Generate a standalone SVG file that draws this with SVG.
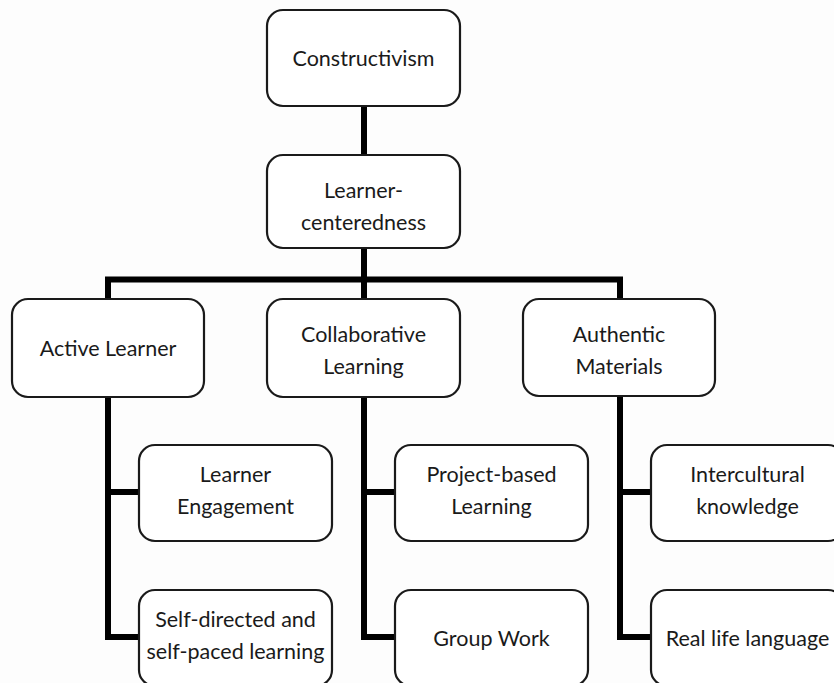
<svg xmlns="http://www.w3.org/2000/svg" width="834" height="683" viewBox="0 0 834 683">
  <style>
    .box { fill: #ffffff; stroke: #1a1a1a; stroke-width: 2.2; }
    .lbl { font-family: Lato, "Open Sans", sans-serif; font-size: 21.5px; fill: #1a1a1a; text-anchor: middle; }
    .link { fill: none; stroke: #000000; stroke-width: 6; stroke-linecap: butt; stroke-linejoin: miter; }
  </style>
  <rect width="834" height="683" fill="#fdfdfd"/>

  <!-- tree connectors -->
  <g id="connectors">
    <path class="link" d="M364 106 V155"/>
    <path class="link" d="M364 248 V279.5"/>
    <path class="link" d="M108 299 V279.5 H620 V299"/>
    <path class="link" d="M364 279.5 V299"/>
    <path class="link" d="M108 397 V637 H139 M108 492 H139"/>
    <path class="link" d="M364 397 V637 H395 M364 492 H395"/>
    <path class="link" d="M620 397 V637 H651 M620 492 H651"/>
  </g>

  <g id="constructivism">
    <rect class="box" x="267" y="10" width="193" height="96" rx="16"/>
    <text class="lbl" x="363.5" y="66">Constructivism</text>
  </g>
  <g id="learner-centeredness">
    <rect class="box" x="267" y="155" width="193" height="93" rx="16"/>
    <text class="lbl" x="363.5" y="198">Learner-</text>
    <text class="lbl" x="363.5" y="230">centeredness</text>
  </g>

  <g id="active-learner">
    <rect class="box" x="12" y="299" width="192" height="98" rx="16"/>
    <text class="lbl" x="108" y="356">Active Learner</text>
  </g>
  <g id="collaborative-learning">
    <rect class="box" x="267" y="299" width="193" height="98" rx="16"/>
    <text class="lbl" x="363.5" y="342">Collaborative</text>
    <text class="lbl" x="363.5" y="374">Learning</text>
  </g>
  <g id="authentic-materials">
    <rect class="box" x="523" y="299" width="192" height="97" rx="16"/>
    <text class="lbl" x="619" y="342">Authentic</text>
    <text class="lbl" x="619" y="374">Materials</text>
  </g>

  <g id="learner-engagement">
    <rect class="box" x="139" y="445" width="193" height="96" rx="16"/>
    <text class="lbl" x="235.5" y="482">Learner</text>
    <text class="lbl" x="235.5" y="514">Engagement</text>
  </g>
  <g id="self-directed">
    <rect class="box" x="139" y="590" width="193" height="96" rx="16"/>
    <text class="lbl" x="235.5" y="627">Self-directed and</text>
    <text class="lbl" x="235.5" y="659">self-paced learning</text>
  </g>

  <g id="project-based">
    <rect class="box" x="395" y="445" width="193" height="96" rx="16"/>
    <text class="lbl" x="491.5" y="482">Project-based</text>
    <text class="lbl" x="491.5" y="514">Learning</text>
  </g>
  <g id="group-work">
    <rect class="box" x="395" y="590" width="193" height="96" rx="16"/>
    <text class="lbl" x="491.5" y="646">Group Work</text>
  </g>

  <g id="intercultural">
    <rect class="box" x="651" y="445" width="193" height="96" rx="16"/>
    <text class="lbl" x="747.5" y="482">Intercultural</text>
    <text class="lbl" x="747.5" y="514">knowledge</text>
  </g>
  <g id="real-life-language">
    <rect class="box" x="651" y="590" width="193" height="96" rx="16"/>
    <text class="lbl" x="747.5" y="646">Real life language</text>
  </g>
</svg>
